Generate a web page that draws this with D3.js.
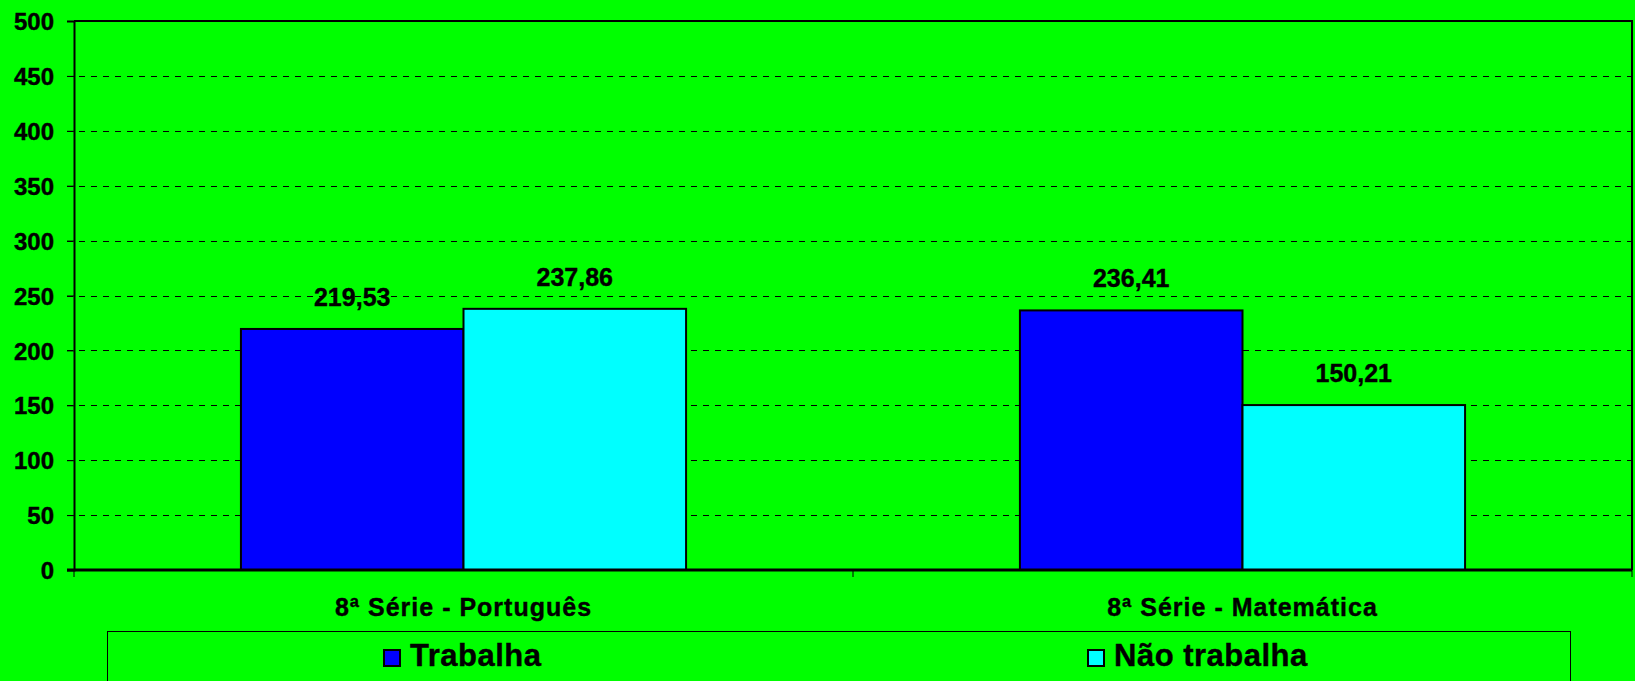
<!DOCTYPE html>
<html>
<head>
<meta charset="utf-8">
<script src="https://cdn.jsdelivr.net/npm/d3@7"></script>
<style>
	body { margin:0; background:#00ff00; }
	svg { display:block; }
	text { font-family:"Liberation Sans", Arial, sans-serif; font-weight:bold; fill:#000; stroke:#000; stroke-width:0.4px; }
</style>
</head>
<body>
<svg width="1635" height="681"></svg>
<script>
// chart data
var categories = ["8ª Série - Português", "8ª Série - Matemática"];
var seriesNames = ["Trabalha", "Não trabalha"];
var trabalha = [219.53, 236.41];
var naoTrabalha = [237.86, 150.21];
var yTicks = [0, 50, 100, 150, 200, 250, 300, 350, 400, 450, 500];
var colors = ["#0000ff", "#00ffff"];

// layout
var plot = { left:74, right:1632, top:21, bottom:570 };

var svg = d3.select('svg');

var x0 = d3.scaleBand()
	.domain(categories)
	.range([plot.left, plot.right])
	.padding(0);

// excel gap width 150% -> group of 2 bars + 1.5 bar gap
var x1 = d3.scaleBand()
	.domain(seriesNames)
	.range([0, x0.bandwidth()])
	.paddingInner(0)
	.paddingOuter(0.75);

var y = d3.scaleLinear()
	.domain([0, 500])
	.range([plot.bottom, plot.top]);

var fmt = function(v){ return v.toFixed(2).replace(".", ","); };

// gridlines (dashed)
svg.append('g')
	.selectAll('line')
	.data(yTicks.filter(function(d){ return d > 0 && d < 500; }))
	.enter().append('line')
	.attr("x1", plot.left - 7)
	.attr("x2", plot.right)
	.attr("y1", function(d){ return Math.round(y(d)) + 0.5; })
	.attr("y2", function(d){ return Math.round(y(d)) + 0.5; })
	.attr("stroke", "#000")
	.attr("stroke-width", 1)
	.attr("stroke-dasharray", "6,6");

// plot frame top and right
svg.append('path')
	.attr("d", "M" + plot.left + "," + plot.top + "H" + plot.right + "V" + plot.bottom)
	.attr("fill", "none")
	.attr("stroke", "#000")
	.attr("stroke-width", 2);

// bars
var rows = categories.map(function(c, i){
	return [
		{ cat:c, name:seriesNames[0], value:trabalha[i], color:colors[0] },
		{ cat:c, name:seriesNames[1], value:naoTrabalha[i], color:colors[1] }
	];
});

var groups = svg.append('g')
	.selectAll('g')
	.data(rows)
	.enter().append('g')
	.attr("transform", function(d){ return "translate(" + x0(d[0].cat) + ",0)"; });

groups.selectAll('rect')
	.data(function(d){ return d; })
	.enter().append('rect')
	.attr("x", function(d){ return x1(d.name); })
	.attr("y", function(d){ return y(d.value); })
	.attr("width", x1.bandwidth())
	.attr("height", function(d){ return y(0) - y(d.value); })
	.attr("fill", function(d){ return d.color; })
	.attr("stroke", "#000")
	.attr("stroke-width", 2);

// data labels
groups.selectAll('text')
	.data(function(d){ return d; })
	.enter().append('text')
	.attr("x", function(d){ return x1(d.name) + x1.bandwidth() / 2; })
	.attr("y", function(d){ return y(d.value) - 23; })
	.attr("text-anchor", "middle")
	.style("font-size", "25px")
	.text(function(d){ return fmt(d.value); });

// y axis
var yAxis = d3.axisLeft(y)
	.tickValues(yTicks)
	.tickSize(7)
	.tickPadding(13)
	.tickFormat(d3.format("d"));

var gy = svg.append('g')
	.attr("transform", "translate(" + plot.left + ",0)")
	.call(yAxis);
gy.select('.domain').attr("stroke", "#000").attr("stroke-width", 2);
gy.selectAll('.tick line').attr("stroke", "#000");
gy.selectAll('.tick text')
	.attr("dy", "0.36em")
	.style("font-size", "24px")
	.style("font-family", '"Liberation Sans", Arial, sans-serif')
	.style("font-weight", "bold")
	.attr("fill", "#000");

// x axis line with ticks at the category boundaries
svg.append('line')
	.attr("x1", plot.left - 7)
	.attr("x2", plot.right)
	.attr("y1", plot.bottom)
	.attr("y2", plot.bottom)
	.attr("stroke", "#000")
	.attr("stroke-width", 3);

var bounds = categories.map(function(c){ return x0(c); }).concat([plot.right]);
svg.append('g')
	.selectAll('line')
	.data(bounds)
	.enter().append('line')
	.attr("x1", function(d){ return d; })
	.attr("x2", function(d){ return d; })
	.attr("y1", plot.bottom)
	.attr("y2", plot.bottom + 7)
	.attr("stroke", "#000");

svg.append('g')
	.selectAll('text')
	.data(categories)
	.enter().append('text')
	.attr("x", function(d){ return x0(d) + x0.bandwidth() / 2; })
	.attr("y", 616)
	.attr("text-anchor", "middle")
	.style("font-size", "25px")
	.style("letter-spacing", "1px")
	.text(function(d){ return d; });

// legend
var legend = svg.append('g');
legend.append('rect')
	.attr("x", 107.5)
	.attr("y", 631.5)
	.attr("width", 1463)
	.attr("height", 70)
	.attr("fill", "none")
	.attr("stroke", "#000")
	.attr("stroke-width", 1);

var legendX = [383, 1087];
var items = legend.selectAll('g')
	.data(seriesNames)
	.enter().append('g')
	.attr("transform", function(d, i){ return "translate(" + legendX[i] + ",0)"; });

items.append('rect')
	.attr("x", 1)
	.attr("y", 650)
	.attr("width", 16)
	.attr("height", 16)
	.attr("fill", function(d, i){ return colors[i]; })
	.attr("stroke", "#000")
	.attr("stroke-width", 2);

items.append('text')
	.attr("x", 27)
	.attr("y", 666)
	.style("font-size", "31px")
	.style("letter-spacing", "0.5px")
	.text(function(d){ return d; });
</script>
</body>
</html>
